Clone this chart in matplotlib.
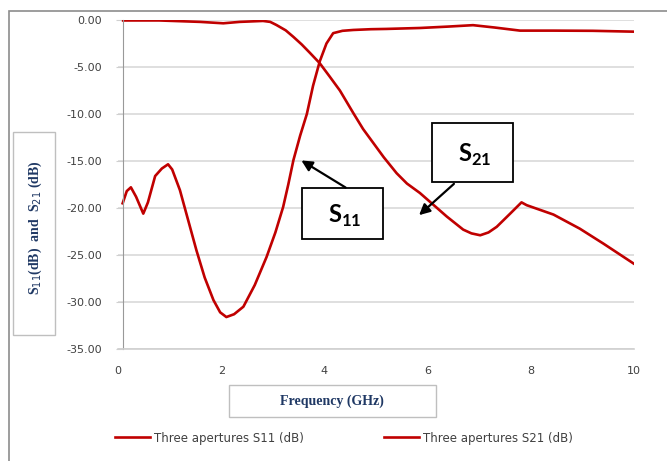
import matplotlib
matplotlib.use("Agg")
import matplotlib.pyplot as plt
from matplotlib.patches import Rectangle, FancyArrowPatch

# values
s11_freq = [0.09, 0.17, 0.25, 0.35, 0.49, 0.58, 0.72, 0.85, 0.97, 1.05, 1.2, 1.36,
            1.52, 1.68, 1.85, 1.98, 2.1, 2.25, 2.43, 2.65, 2.88, 3.05, 3.2, 3.3,
            3.4, 3.53, 3.66, 3.78, 3.91, 4.04, 4.17, 4.35, 4.56, 4.9, 5.2, 5.85,
            6.4, 6.88, 7.3, 7.79, 8.43, 9.2, 9.99]
s11_db = [-19.5, -18.2, -17.8, -18.8, -20.6, -19.4, -16.6, -15.8, -15.35, -15.9, -18.1, -21.3,
          -24.5, -27.4, -29.8, -31.1, -31.6, -31.3, -30.5, -28.2, -25.2, -22.6, -19.9, -17.5,
          -14.9, -12.3, -10.0, -7.0, -4.4, -2.5, -1.4, -1.15, -1.06, -0.98, -0.95, -0.85,
          -0.7, -0.55, -0.8, -1.13, -1.13, -1.15, -1.24]

s21_freq = [0.1, 0.8, 1.59, 2.04, 2.36, 2.81, 2.95, 3.07, 3.25, 3.4, 3.56, 3.72,
            3.91, 4.1, 4.3, 4.56, 4.75, 4.95, 5.15, 5.4, 5.6, 5.85, 6.1, 6.37,
            6.69, 6.85, 7.02, 7.18, 7.34, 7.6, 7.82, 7.92, 8.44, 8.95, 9.41, 9.99]
s21_db = [-0.05, -0.05, -0.2, -0.35, -0.2, -0.1, -0.2, -0.53, -1.1, -1.8, -2.6, -3.5,
          -4.6, -6.0, -7.5, -9.9, -11.6, -13.1, -14.6, -16.3, -17.4, -18.4, -19.6, -20.9,
          -22.3, -22.7, -22.9, -22.6, -22.0, -20.6, -19.4, -19.7, -20.7, -22.2, -23.8, -25.9]

x_ticks = [0, 2, 4, 6, 8, 10]
y_ticks = [0, -5, -10, -15, -20, -25, -30, -35]
series_names = ["Three apertures S11 (dB)", "Three apertures S21 (dB)"]

W, H = 667, 461
RED = "#c00000"
NAVY = "#1f3864"
TXT = "#404040"


def fx(px):
    return px / W


def fy(py):
    return 1 - py / H


fig = plt.figure(figsize=(W / 100, H / 100), dpi=100)
ax = fig.add_axes([fx(118), fy(349), fx(634) - fx(118), fy(20) - fy(349)])

l1, = ax.plot(s11_freq, s11_db, color=RED, lw=1.9)
l2, = ax.plot(s21_freq, s21_db, color=RED, lw=1.9)

ax.set_xlim(0, 10)
ax.set_ylim(-35, 0)
ax.set_xticks(x_ticks)
ax.set_yticks(y_ticks)
ax.set_yticklabels([f"{v:.2f}" for v in y_ticks])
ax.grid(axis="y", color="#d9d9d9", lw=1.2)
ax.set_axisbelow(True)
for s in ["top", "right"]:
    ax.spines[s].set_visible(False)
ax.spines["left"].set_position(("data", 0.1))
ax.spines["left"].set_color("#999999")
ax.spines["bottom"].set_color("#d0d0d0")
ax.spines["bottom"].set_linewidth(1.2)
ax.tick_params(axis="y", length=5, color="#d0d0d0", pad=10, labelsize=8, labelcolor=TXT)
ax.tick_params(axis="x", length=0, pad=12, labelsize=8, labelcolor=TXT)

# outer chart border
fig.add_artist(Rectangle((fx(9), fy(480)), fx(700) - fx(9), fy(11) - fy(480),
                         transform=fig.transFigure, fill=False, ec="#8c8c8c", lw=1.2))

# y-axis title box
fig.add_artist(Rectangle((fx(13), fy(335)), fx(55) - fx(13), fy(132) - fy(335),
                         transform=fig.transFigure, fill=False, ec="#bfbfbf", lw=1))
fig.text(fx(35), fy(228), r"S$_{11}$(dB)  and  S$_{21}$ (dB)", rotation=90,
         ha="center", va="center", color=NAVY, fontsize=10, fontweight="bold",
         family="Liberation Serif")

# x-axis title box
fig.add_artist(Rectangle((fx(229), fy(417)), fx(436) - fx(229), fy(385) - fy(417),
                         transform=fig.transFigure, fill=False, ec="#bfbfbf", lw=1))
fig.text(fx(332), fy(401), "Frequency (GHz)", ha="center", va="center", color=NAVY,
         fontsize=10, fontweight="bold", family="Liberation Serif")

# S11 / S21 call-out boxes with arrows
plt.rcParams["mathtext.fontset"] = "custom"
plt.rcParams["mathtext.bf"] = "Lato:bold"
plt.rcParams["mathtext.rm"] = "Lato:bold"
for (x0, y0, x1, y1), label, tail, head in [
        ((302, 188, 383, 239), r"S$_{11}$", (348, 189), (299, 159)),
        ((432, 123, 513, 182), r"S$_{21}$", (456, 182), (417, 217))]:
    fig.add_artist(Rectangle((fx(x0), fy(y1)), fx(x1) - fx(x0), fy(y0) - fy(y1),
                             transform=fig.transFigure, fill=True, fc="white",
                             ec="black", lw=1.3, zorder=5))
    fig.text(fx((x0 + x1) / 2 + 2), fy((y0 + y1) / 2 + 2), label, ha="center", va="center",
             fontsize=17, fontweight="bold", family="Lato", zorder=6)
    fig.add_artist(FancyArrowPatch(
        (fx(tail[0]), fy(tail[1])), (fx(head[0]), fy(head[1])),
        transform=fig.transFigure, arrowstyle="-|>", mutation_scale=16,
        color="black", lw=1.6, zorder=6))

# legend, one entry anchored at each line start
for line, name, x_start in [(l1, series_names[0], 115), (l2, series_names[1], 384)]:
    fig.legend([line], [name], loc="center left", frameon=False,
               bbox_to_anchor=(fx(x_start), fy(438)), borderaxespad=0, borderpad=0,
               handlelength=3.0, handletextpad=0.3,
               prop={"size": 8.5}, labelcolor=TXT)

fig.savefig("out.png", dpi=100)
